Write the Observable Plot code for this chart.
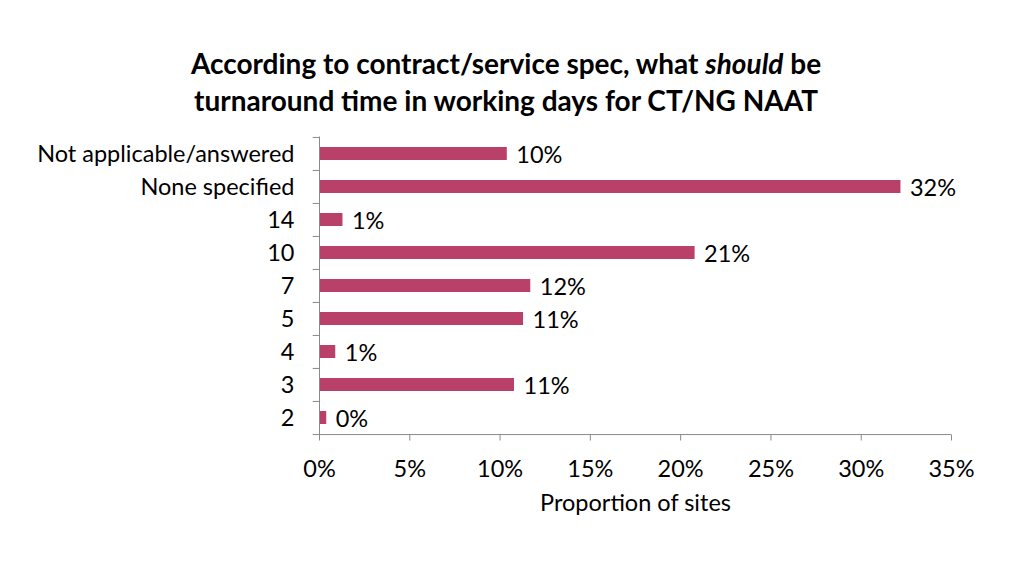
<!DOCTYPE html>
<html>
<head>
<meta charset="utf-8">
<script src="https://cdn.jsdelivr.net/npm/d3@7"></script>
<script src="https://cdn.jsdelivr.net/npm/@observablehq/plot@0.6"></script>
<style>
  html, body { margin: 0; padding: 0; background: #fff; width: 1024px; height: 576px; overflow: hidden; }
  #title {
    height: 130px; box-sizing: border-box; padding-top: 45px;
    width: 1012px; text-align: center;
    font-family: Lato, "Open Sans", sans-serif; font-weight: bold;
    font-size: 28px; line-height: 37px; color: #000;
  }
  #chart svg { display: block; }
</style>
</head>
<body>
<div id="title">According to contract/service spec, what <i>should</i> be<br>turnaround time in working days for CT/NG NAAT</div>
<div id="chart"></div>
<script>
const categories = ["Not applicable/answered", "None specified", "14", "10", "7", "5", "4", "3", "2"];
const values = [10.4, 32.2, 1.3, 20.8, 11.7, 11.3, 0.9, 10.8, 0.4];
const xTicks = [0, 5, 10, 15, 20, 25, 30, 35];
const xLabel = "Proportion of sites";

const data = categories.map((c, i) => ({cat: c, value: values[i]}));
const barColor = "#B94068";
const axisColor = "#8a8a8a";
const font = "Lato, 'Open Sans', sans-serif";
const fs = 23.5;
const step = 298 / categories.length;

const chart = Plot.plot({
  width: 1024,
  height: 446,
  marginLeft: 319,
  marginRight: 73,
  marginTop: 6.5,
  marginBottom: 141.5,
  style: {fontFamily: font, fontSize: fs + "px", color: "#000", background: "#fff"},
  x: {domain: [0, 35]},
  y: {domain: categories, paddingInner: 0.6, paddingOuter: 0.3},
  marks: [
    Plot.barX(data, {y: "cat", x: "value", fill: barColor}),
    Plot.text(data, {y: "cat", x: "value", text: d => Math.round(d.value) + "%", dx: 9, dy: 1, textAnchor: "start", fill: "#000", fontSize: fs}),
    Plot.ruleX([0], {stroke: axisColor}),
    Plot.ruleY(categories, {y: d => d, x1: -0.35, x2: 0, dy: -step / 2, stroke: axisColor}),
    Plot.ruleY([categories[categories.length - 1]], {y: d => d, x1: -0.35, x2: 35, dy: step / 2, stroke: axisColor}),
    Plot.axisX(xTicks, {tickSize: 6, tickPadding: 19, tickFormat: d => d + "%", stroke: axisColor, fill: "#000", label: null, fontSize: fs}),
    Plot.axisY({tickSize: 0, tickPadding: 25, label: null, fill: "#000", fontSize: fs}),
    Plot.text([xLabel], {frameAnchor: "bottom", x: () => 17.5, text: d => d, dy: 68.5, fill: "#000", fontSize: fs, lineAnchor: "middle"})
  ]
});
document.getElementById("chart").appendChild(chart);
</script>
</body>
</html>
